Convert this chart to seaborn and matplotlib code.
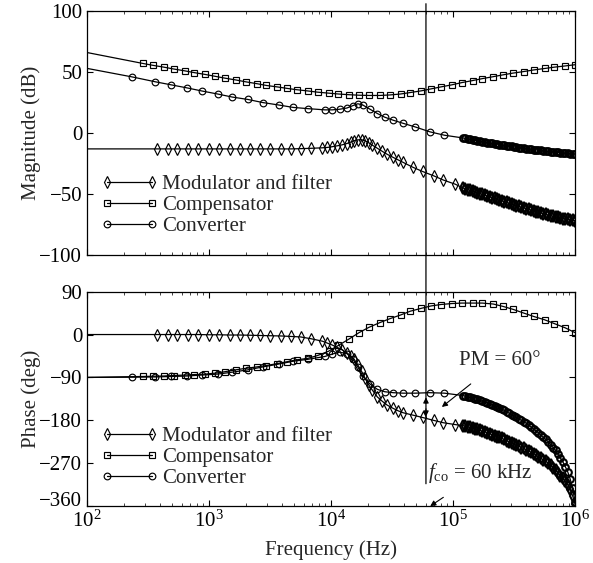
import numpy as np
import matplotlib
matplotlib.use("Agg")
import matplotlib.pyplot as plt
import matplotlib.transforms as mtransforms
import seaborn as sns
from matplotlib.lines import Line2D
from matplotlib.patches import ConnectionPatch

# all frequencies given as log10(f / Hz); first point of every series is 100 Hz (no marker)

# compensator (squares)
comp_logf = [2.0, 2.46, 2.54, 2.63, 2.71, 2.80, 2.88, 2.97, 3.05, 3.13, 3.22, 3.30, 3.39, 3.47,
             3.56, 3.64, 3.72, 3.81, 3.89, 3.98, 4.06, 4.15, 4.23, 4.31, 4.40, 4.48, 4.57, 4.65,
             4.74, 4.82, 4.90, 4.99, 5.07, 5.16, 5.24, 5.33, 5.41, 5.49, 5.58, 5.66, 5.75, 5.83,
             5.92, 6.00]
comp_mag = [66, 57, 55.5, 54, 52.5, 51, 49.5, 48, 46.5, 45, 43.5, 42, 40.5, 39, 37.8, 36.6,
            35.5, 34.5, 33.5, 32.7, 32, 31.4, 31, 30.8, 30.8, 31.2, 32, 33.2, 34.6, 36.2, 37.8,
            39.5, 41.3, 43, 44.6, 46.2, 47.7, 49.1, 50.4, 51.7, 52.9, 54, 55, 56]
comp_phase = [-90, -88, -87.5, -87, -86, -85, -84, -83, -81, -78, -74, -71, -68, -65, -61, -57,
              -53, -50, -44, -35, -23, -9, 4, 15, 25, 33, 41, 49, 55, 60, 63, 65, 66, 66, 66, 64,
              59, 53, 45, 38, 31, 23, 14, 4]

# high-frequency points shared by modulator and converter (dense marker band)
band_logf = [5.08, 5.10, 5.12, 5.14, 5.16, 5.18, 5.20, 5.22, 5.24, 5.26, 5.28, 5.30, 5.32, 5.34,
             5.36, 5.38, 5.40, 5.42, 5.44, 5.46, 5.48, 5.50, 5.52, 5.54, 5.56, 5.58, 5.60, 5.62,
             5.64, 5.66, 5.68, 5.70, 5.72, 5.74, 5.76, 5.78, 5.80, 5.82, 5.84, 5.86, 5.88, 5.90,
             5.92, 5.94, 5.96, 5.98, 6.00]

# modulator and filter (diamonds)
mod_logf = [2.0, 2.57, 2.66, 2.74, 2.83, 2.91, 3.00, 3.08, 3.17, 3.25, 3.34, 3.42, 3.50, 3.59,
            3.67, 3.75, 3.84, 3.93, 3.97, 4.01, 4.05, 4.09, 4.13, 4.16, 4.19, 4.22, 4.25, 4.28,
            4.31, 4.34, 4.38, 4.42, 4.46, 4.51, 4.55, 4.59, 4.67, 4.75, 4.84, 4.92, 5.02]
mod_mag = [-13, -13, -13, -13, -13, -13, -13, -13, -13, -13, -13, -13, -13, -13, -13, -12.8,
           -12.5, -12.1, -11.8, -11.2, -10.5, -9.7, -8.6, -7.5, -6.3, -5.6, -5.5, -6.4, -8.0,
           -10.0, -12.5, -15.0, -17.4, -20.0, -22.0, -24.0, -28, -31.5, -35, -38.5, -42]
mod_phase = [0, 0, 0, 0, 0, 0, -0.5, -0.5, -1, -1, -1.5, -2, -2.5, -3, -4, -5, -9, -14, -18,
             -22, -27, -32, -38, -45, -52, -64, -77, -92, -106, -117, -131, -140, -148, -155,
             -160, -164, -169, -174, -180, -185, -189]
mod_mag_band = [-45.0, -45.7, -46.3, -47.0, -47.7, -48.3, -49.0, -49.6, -50.3, -51.0, -51.6,
                -52.3, -53.0, -53.6, -54.3, -55.0, -55.6, -56.3, -56.9, -57.6, -58.3, -58.9,
                -59.6, -60.2, -60.9, -61.4, -62.0, -62.6, -63.2, -63.8, -64.4, -65.0, -65.6,
                -66.1, -66.7, -67.2, -67.7, -68.3, -68.8, -69.2, -69.7, -70.1, -70.5, -70.8,
                -71.2, -71.5, -71.8]
mod_phase_band = [-191, -192, -194, -195, -196, -198, -199, -201, -203, -204, -206, -208, -210,
                  -212, -214, -216, -218, -220, -223, -225, -227, -230, -232, -234, -237, -239,
                  -242, -244, -247, -250, -253, -256, -260, -263, -266, -270, -274, -279, -284,
                  -290, -296, -302, -308, -315, -325, -338, -356]

# converter / loop (circles)
conv_logf = [2.0, 2.37, 2.56, 2.69, 2.82, 2.94, 3.07, 3.19, 3.32, 3.44, 3.57, 3.69, 3.81, 3.95,
             4.01, 4.07, 4.13, 4.18, 4.22, 4.26, 4.32, 4.38, 4.44, 4.51, 4.59, 4.69, 4.81, 4.93]
conv_mag = [53, 46, 42, 39.5, 37, 34.5, 32, 29.5, 27.5, 25, 23, 21, 20, 19, 19, 19.5, 20.5,
            22.5, 24, 23, 19.5, 16, 13, 10.5, 8, 5, 1, -1.8]
conv_phase = [-90, -89.5, -89, -88, -87, -85, -83, -79, -74, -68, -62, -56, -52, -46, -41, -37,
              -40, -52, -68, -87, -104, -115, -120, -122, -123, -123, -122, -123]
conv_mag_band = [-4.0, -4.4, -4.8, -5.2, -5.6, -6.0, -6.4, -6.7, -7.0, -7.4, -7.8, -8.1, -8.4,
                 -8.8, -9.1, -9.4, -9.7, -10.0, -10.4, -10.7, -11.0, -11.3, -11.6, -11.9, -12.2,
                 -12.4, -12.7, -12.9, -13.2, -13.5, -13.7, -14.0, -14.3, -14.5, -14.8, -15.0,
                 -15.2, -15.5, -15.7, -15.9, -16.1, -16.3, -16.5, -16.7, -16.8, -17.0, -17.1]
conv_phase_band = [-128, -129, -131, -132, -133, -135, -136, -138, -140, -141, -143, -145, -148,
                   -150, -152, -154, -157, -159, -162, -165, -168, -171, -174, -177, -180, -183,
                   -186, -190, -194, -198, -202, -206, -211, -216, -220, -225, -231, -237, -243,
                   -251, -259, -267, -277, -288, -303, -322, -352]

labels = ["Modulator and filter", "Compensator", "Converter"]
f_co = 6e4

sns.set_style("ticks")
plt.rcParams["font.family"] = ["Liberation Serif", "DejaVu Serif"]
plt.rcParams["mathtext.fontset"] = "custom"
plt.rcParams["mathtext.rm"] = "Liberation Serif"
plt.rcParams["mathtext.it"] = "Liberation Serif:italic"
plt.rcParams["xtick.direction"] = "in"
plt.rcParams["ytick.direction"] = "in"
plt.rcParams["xtick.top"] = True
plt.rcParams["ytick.right"] = True
plt.rcParams["axes.linewidth"] = 0.9
fs = 15

fig = plt.figure(figsize=(5.93, 5.63), dpi=100)
ax1 = fig.add_axes([0.1467, 0.547, 0.823, 0.4334])
ax2 = fig.add_axes([0.1467, 0.101, 0.823, 0.381])

styles = {"mod": ("d", 5.8), "comp": ("s", 4.6), "conv": ("o", 4.8)}


def draw(ax, logf, vals, kind, band=None):
    m, ms = styles[kind]
    if band is not None:
        logf = logf + band_logf
        vals = vals + band
    f = 10 ** np.asarray(logf, dtype=float)
    n_band = 0 if band is None else len(band)
    sns.lineplot(x=f, y=vals, ax=ax, color="k", lw=0.9, marker=m, markersize=ms,
                 markerfacecolor="none", markeredgecolor="k", markeredgewidth=0.85,
                 markevery=list(range(1, len(f) - n_band)), sort=False, estimator=None)
    if n_band:
        # closely spaced points merge into a solid band
        sns.lineplot(x=f[-n_band:], y=band, ax=ax, color="k", linestyle="none", marker=m,
                     markersize=ms, markerfacecolor="none", markeredgecolor="k",
                     markeredgewidth=1.5, sort=False, estimator=None)


draw(ax1, comp_logf, comp_mag, "comp")
draw(ax1, mod_logf, mod_mag, "mod", mod_mag_band)
draw(ax1, conv_logf, conv_mag, "conv", conv_mag_band)
draw(ax2, comp_logf, comp_phase, "comp")
draw(ax2, mod_logf, mod_phase, "mod", mod_phase_band)
draw(ax2, conv_logf, conv_phase, "conv", conv_phase_band)

for ax in (ax1, ax2):
    ax.set_xscale("log")
    ax.set_xlim(1e2, 1e6)
    ax.tick_params(labelsize=fs, length=4, width=0.8, colors="k")
    ax.tick_params(which="minor", length=2.5, width=0.6)
    for s in ax.spines.values():
        s.set_color("k")
    handles = [Line2D([0], [0], color="k", lw=0.9, marker=styles[k][0], markersize=styles[k][1],
                      markerfacecolor="none", markeredgecolor="k", markeredgewidth=0.85)
               for k in ("mod", "comp", "conv")]
    ax.legend(handles, labels, loc="upper left", frameon=False, fontsize=fs, numpoints=2,
              handlelength=2.76, handletextpad=0.17, labelspacing=0.07, borderpad=0,
              borderaxespad=0, bbox_to_anchor=(0.029, 0.33 if ax is ax1 else 0.37))

ax1.set_ylim(-100, 100)
ax1.set_yticks([-100, -50, 0, 50, 100])
ax1.set_xticklabels([])
ax1.set_ylabel("Magnitude (dB)", fontsize=fs)
ax2.set_ylim(-360, 90)
ax2.set_yticks([-360, -270, -180, -90, 0, 90])
ax2.set_ylabel("Phase (deg)", fontsize=fs)
ax2.set_xlabel("Frequency (Hz)", fontsize=fs, labelpad=6)
ax1.yaxis.set_label_coords(-0.094, 0.5)
ax2.yaxis.set_label_coords(-0.094, 0.5)

# lowest phase label sits a little above the axis line, clear of 10^2
low = ax2.get_yticklabels()[0]
low.set_transform(low.get_transform()
                  + mtransforms.ScaledTranslation(0, 5 / 72, fig.dpi_scale_trans))

# crossover line through both panels
con = ConnectionPatch(xyA=(f_co, 106), coordsA=ax1.transData, xyB=(f_co, -313),
                      coordsB=ax2.transData, color="k", lw=0.9)
con.set_clip_on(False)
fig.add_artist(con)

ax2.annotate("", xy=(f_co, -126), xytext=(f_co, -150),
             arrowprops=dict(arrowstyle="-|>", color="k", lw=0.8, mutation_scale=8))
ax2.annotate("", xy=(f_co, -178), xytext=(f_co, -150),
             arrowprops=dict(arrowstyle="-|>", color="k", lw=0.8, mutation_scale=8))
ax2.annotate("PM = 60°", xy=(8.1e4, -152), xytext=(1.12e5, -55), fontsize=fs,
             ha="left", va="center",
             arrowprops=dict(arrowstyle="-|>", color="k", lw=0.8, mutation_scale=8,
                             shrinkA=12, shrinkB=0))
ax2.annotate(r"$f_{\mathrm{co}}$ = 60 kHz", xy=(6.5e4, -360), xytext=(6.2e4, -290),
             fontsize=fs, ha="left", va="center",
             arrowprops=dict(arrowstyle="-|>", color="k", lw=0.8, mutation_scale=8,
                             shrinkA=12, shrinkB=0))

fig.savefig("out.png", dpi=100)
